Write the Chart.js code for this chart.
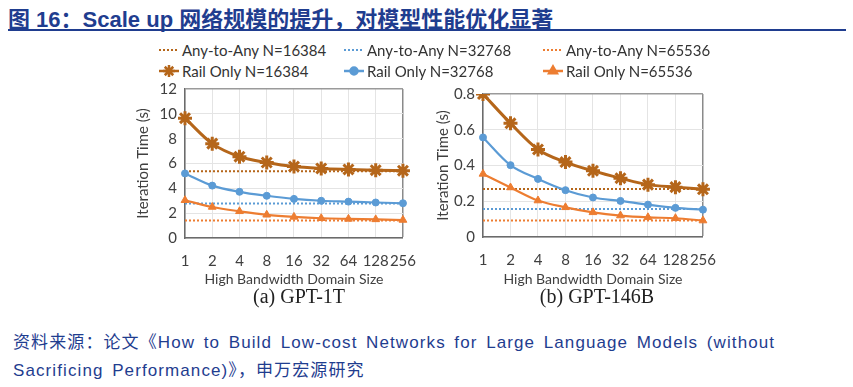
<!DOCTYPE html>
<html>
<head>
<meta charset="utf-8">
<script src="https://cdn.jsdelivr.net/npm/chart.js@4.4.0/dist/chart.umd.min.js"></script>
<style>
  body { margin: 0; width: 853px; height: 387px; background: #fff; position: relative; overflow: hidden; font-family: Lato, sans-serif; }
  .abs { position: absolute; white-space: nowrap; }
  #title { left: 8px; top: 1px; font: bold 22px "Liberation Sans", "Noto Sans CJK SC", sans-serif; color: #1f3d8f; }
  #rule { left: 8px; top: 29px; width: 838px; height: 2px; background: #1f3d8f; }
  .leg { font: 15px Lato, sans-serif; color: #333; display: flex; align-items: center; }
  .leg canvas { margin-right: 2px; }
  .sub { font: 20px "Liberation Serif", serif; color: #222; transform: translateX(-50%); }
  .src { left: 13px; font: 17px "Liberation Sans", "Noto Sans CJK SC", sans-serif; letter-spacing: 1.1px; word-spacing: 2.8px; color: #1f3d8f; }
</style>
</head>
<body>
<div id="title" class="abs">图 16：Scale up 网络规模的提升，对模型性能优化显著</div>
<div id="rule" class="abs"></div>
<div id="legend"></div>
<div class="abs" style="left:120px;top:72px"><canvas id="gpt1t" width="310" height="220"></canvas></div>
<div class="abs" style="left:420px;top:77px"><canvas id="gpt146b" width="310" height="215"></canvas></div>
<div class="abs sub" style="left:299px;top:285px">(a) GPT-1T</div>
<div class="abs sub" style="left:597px;top:285px">(b) GPT-146B</div>
<div class="abs src" style="top:328px">资料来源：论文《How to Build Low-cost Networks for Large Language Models (without</div>
<div class="abs src" style="top:356px">Sacrificing Performance)》，申万宏源研究</div>

<script>
// x categories: high bandwidth domain size
const domainSizes = ['1', '2', '4', '8', '16', '32', '64', '128', '256']

// GPT-1T iteration time (s)
const railA16384 = [9.65, 7.6, 6.55, 6.08, 5.75, 5.6, 5.52, 5.46, 5.42]
const railA32768 = [5.2, 4.22, 3.72, 3.4, 3.15, 3.0, 2.93, 2.86, 2.8]
const railA65536 = [3.04, 2.5, 2.15, 1.87, 1.7, 1.59, 1.54, 1.5, 1.45]
const anyA = [5.38, 2.77, 1.4]

// GPT-146B iteration time (s)
const railB16384 = [0.8, 0.636, 0.49, 0.419, 0.37, 0.329, 0.293, 0.279, 0.267]
const railB32768 = [0.557, 0.402, 0.325, 0.262, 0.221, 0.202, 0.181, 0.163, 0.153]
const railB65536 = [0.353, 0.277, 0.204, 0.166, 0.138, 0.12, 0.11, 0.105, 0.092]
const anyB = [0.269, 0.157, 0.092]

const seriesNames = ['N=16384', 'N=32768', 'N=65536']
const colors = ['#b5661a', '#5b9bd5', '#ed7d31']
const markers = ['star', 'circle', 'triangle']
const markerSize = [7, 3.5, 4.5]
const lineWidths = [3, 2.2, 2.2]

const textColor = '#404040'
const gridColor = '#e4e4e4'
const axisColor = '#6b6b6b'

function buildDatasets(rails, anys) {
  const sets = []
  rails.forEach((vals, i) => {
    sets.push({
      label: 'Rail Only ' + seriesNames[i],
      data: vals,
      borderColor: colors[i],
      backgroundColor: colors[i],
      borderWidth: lineWidths[i],
      pointStyle: markers[i],
      pointRadius: markerSize[i],
      pointBorderWidth: i === 0 ? 3 : 1,
      cubicInterpolationMode: 'monotone'
    })
  })
  anys.forEach((v, i) => {
    sets.push({
      label: 'Any-to-Any ' + seriesNames[i],
      data: domainSizes.map(() => v),
      borderColor: colors[i],
      borderWidth: 2,
      borderDash: [2, 2],
      pointRadius: 0
    })
  })
  return sets
}

function createChart(id, rails, anys, cfg) {
  const ctx = document.getElementById(id)
  return new Chart(ctx, {
    type: 'line',
    data: { labels: domainSizes, datasets: buildDatasets(rails, anys) },
    options: {
      responsive: false,
      animation: false,
      layout: { padding: { top: 0, right: cfg.padRight, left: 0, bottom: 0 } },
      plugins: { legend: { display: false }, tooltip: { enabled: false } },
      scales: {
        x: {
          offset: false,
          afterFit: s => { s.height = cfg.xHeight },
          grid: {
            drawTicks: false,
            color: c => c.index === domainSizes.length - 1 ? '#8a8a8a' : gridColor,
            lineWidth: c => c.index === domainSizes.length - 1 ? 1.5 : 1
          },
          border: { color: axisColor, width: 1.5 },
          ticks: { autoSkip: false, maxRotation: 0, padding: 14, color: textColor, font: { family: 'Lato', size: 15 } },
          title: { display: true, text: 'High Bandwidth Domain Size', color: textColor, font: { family: 'Lato', size: 14 }, padding: { top: -2 } }
        },
        y: {
          min: 0,
          max: cfg.max,
          afterFit: s => { s.width = cfg.yWidth },
          grid: {
            drawTicks: false,
            color: c => Math.abs(c.tick.value - cfg.max) < 1e-9 ? '#9a9a9a' : gridColor,
            lineWidth: c => Math.abs(c.tick.value - cfg.max) < 1e-9 ? 1.5 : 1
          },
          border: { color: axisColor, width: 1.5 },
          ticks: {
            stepSize: cfg.step,
            padding: 8,
            color: textColor,
            font: { family: 'Lato', size: 15 },
            callback: v => {
              const k = Math.round(v / cfg.step)
              if (k % 2) return ''
              return cfg.step < 1 ? (k === 0 ? '0' : (k * cfg.step).toFixed(1)) : String(k * cfg.step)
            }
          },
          title: { display: true, text: 'Iteration Time (s)', color: textColor, font: { family: 'Lato', size: 15 }, padding: { top: 14, bottom: 0 } }
        }
      }
    }
  })
}

createChart('gpt1t', [railA16384, railA32768, railA65536], anyA,
  { max: 12, step: 1, padRight: 17, xHeight: 54, yWidth: 65 })
createChart('gpt146b', [railB16384, railB32768, railB65536], anyB,
  { max: 0.8, step: 0.1, padRight: 18, xHeight: 55, yWidth: 63 })

// shared legend, drawn with the library's point helper
function legendItem(x, y, text, color, style, dotted, size) {
  const div = document.createElement('div')
  div.className = 'abs leg'
  div.style.left = x + 'px'
  div.style.top = y + 'px'
  const c = document.createElement('canvas')
  c.width = 22; c.height = 16
  const g = c.getContext('2d')
  g.strokeStyle = color
  g.fillStyle = color
  g.lineWidth = dotted ? 2 : 2.5
  if (dotted) g.setLineDash([2, 2])
  g.beginPath(); g.moveTo(1, 8); g.lineTo(21, 8); g.stroke()
  g.setLineDash([])
  if (!dotted) Chart.helpers.drawPoint(g, { pointStyle: style, radius: size, rotation: 0, borderWidth: style === 'star' ? 3 : 1 }, 11, 8)
  div.appendChild(c)
  const span = document.createElement('span')
  span.textContent = text
  div.appendChild(span)
  document.getElementById('legend').appendChild(div)
}

const legendX = [158, 343, 542]
seriesNames.forEach((n, i) => {
  legendItem(legendX[i], 41, 'Any-to-Any ' + n, colors[i], null, true)
  legendItem(legendX[i], 62, 'Rail Only ' + n, colors[i], markers[i], false, i === 0 ? 6 : markerSize[i])
})
</script>
</body>
</html>
